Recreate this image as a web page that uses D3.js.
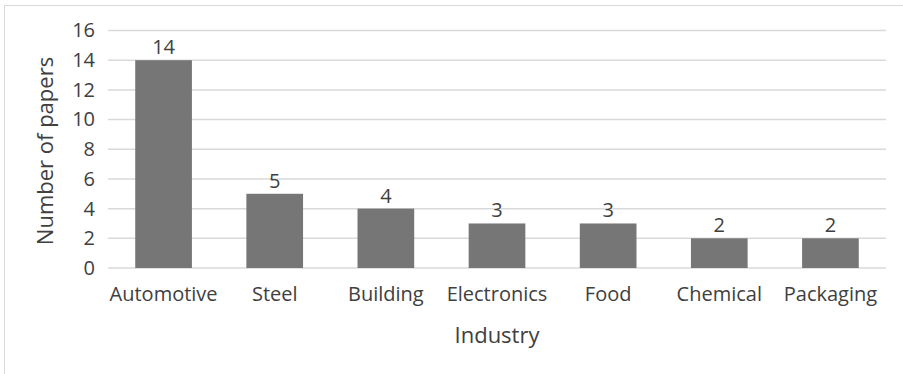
<!DOCTYPE html>
<html>
<head>
<meta charset="utf-8">
<script src="https://cdn.jsdelivr.net/npm/d3@7"></script>
<style>
  body { margin: 0; background: #fff; }
  svg { display: block; font-family: "Open Sans", sans-serif; }
</style>
</head>
<body>
<svg id="chart" width="903" height="374"></svg>
<script>
const industries = ["Automotive", "Steel", "Building", "Electronics", "Food", "Chemical", "Packaging"];
const papers = [14, 5, 4, 3, 3, 2, 2];
const yTicks = [0, 2, 4, 6, 8, 10, 12, 14, 16];

const svg = d3.select("#chart");
const margin = { left: 108, right: 17, top: 30.5, bottom: 106 };
const W = 903, H = 374;

// chart frame (only top/left show in the reference, rest is cropped)
svg.append("rect")
    .attr("x", 4.5).attr("y", 5.5)
    .attr("width", 910).attr("height", 400)
    .attr("fill", "none").attr("stroke", "#d9d9d9");

const x = d3.scaleBand()
    .domain(industries)
    .range([margin.left, W - margin.right])
    .paddingInner(0.49).paddingOuter(0.245);

const y = d3.scaleLinear()
    .domain([0, 16])
    .range([H - margin.bottom, margin.top]);

// gridlines
svg.append("g")
    .selectAll("line")
    .data(yTicks)
    .join("line")
    .attr("x1", margin.left).attr("x2", W - margin.right)
    .attr("y1", d => y(d)).attr("y2", d => y(d))
    .attr("stroke", "#d9d9d9").attr("stroke-width", 1.5);

// y tick labels
const yAxis = svg.append("g")
    .attr("transform", `translate(${margin.left},0)`)
    .call(d3.axisLeft(y).tickValues(yTicks).tickSize(0).tickPadding(13));
yAxis.select(".domain").remove();
yAxis.selectAll("text").attr("font-size", 20).attr("fill", "#404040")
    .attr("font-family", "Open Sans, sans-serif");

// bars
svg.append("g")
    .selectAll("rect")
    .data(industries)
    .join("rect")
    .attr("x", d => x(d))
    .attr("width", x.bandwidth())
    .attr("y", (d, i) => y(papers[i]))
    .attr("height", (d, i) => y(0) - y(papers[i]))
    .attr("fill", "#767676");

// value labels
svg.append("g")
    .selectAll("text")
    .data(industries)
    .join("text")
    .attr("x", d => x(d) + x.bandwidth() / 2)
    .attr("y", (d, i) => y(papers[i]) - 6)
    .attr("text-anchor", "middle")
    .attr("font-size", 20)
    .attr("fill", "#404040")
    .text((d, i) => papers[i]);

// x category labels
const xAxis = svg.append("g")
    .attr("transform", `translate(0,${y(0)})`)
    .call(d3.axisBottom(x).tickSize(0).tickPadding(19));
xAxis.select(".domain").remove();
xAxis.selectAll("text").attr("font-size", 20).attr("fill", "#404040")
    .attr("font-family", "Open Sans, sans-serif");

// axis titles
svg.append("text")
    .attr("x", 497).attr("y", 343)
    .attr("text-anchor", "middle")
    .attr("font-size", 22).attr("fill", "#404040")
    .text("Industry");

svg.append("text")
    .attr("transform", "translate(53,151) rotate(-90)")
    .attr("text-anchor", "middle")
    .attr("font-size", 22).attr("fill", "#404040")
    .text("Number of papers");
</script>
</body>
</html>
